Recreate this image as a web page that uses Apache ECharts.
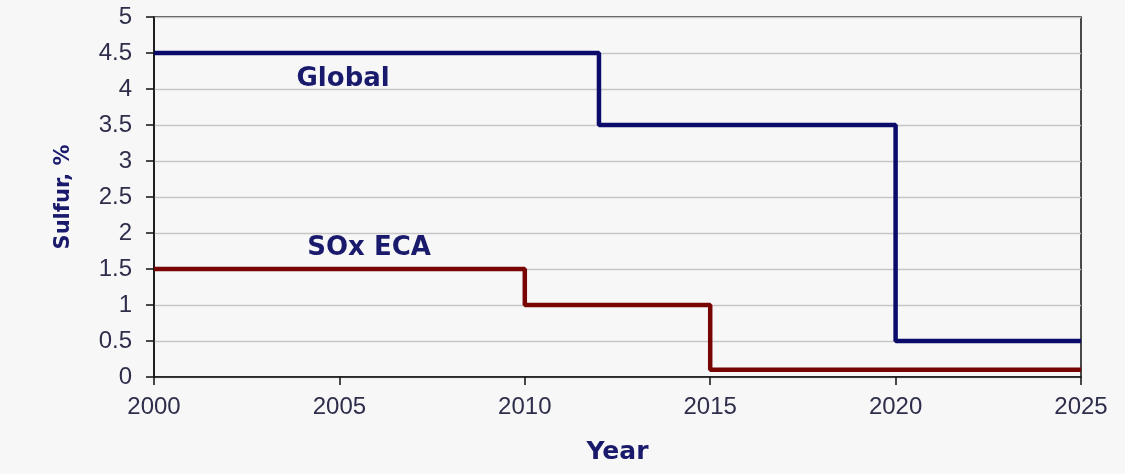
<!DOCTYPE html>
<html>
<head>
<meta charset="utf-8">
<script src="https://cdn.jsdelivr.net/npm/echarts@6/dist/echarts.min.js"></script>
<style>
  html, body { margin: 0; padding: 0; background: #f7f7f7; }
  #chart { width: 1125px; height: 474px; }
</style>
</head>
<body>
<div id="chart"></div>
<script>
// Sulfur limits (%) in marine fuel, by year the limit takes effect
const globalYears = [2000, 2012, 2020, 2025];
const globalLimits = [4.5, 3.5, 0.5, 0.5];
const ecaYears = [2000, 2010, 2015, 2025];
const ecaLimits = [1.5, 1.0, 0.1, 0.1];

const yTicks = [0, 0.5, 1, 1.5, 2, 2.5, 3, 3.5, 4, 4.5, 5];
const xTicks = [2000, 2005, 2010, 2015, 2020, 2025];

const seriesNames = ['Global', 'SOx ECA'];
const labelAnchors = [[2005.1, 4.14], [2005.8, 1.79]];

const tickFont = 'Liberation Sans, Arial, sans-serif';
const boldFont = 'DejaVu Sans, Verdana, sans-serif';
const navy = '#0b0b6c';
const red = '#780404';
const titleColor = '#1a1a6c';
const tickColor = '#2e2e4c';

function pairs(xs, ys) { return xs.map((x, i) => [x, ys[i]]); }

function annotation(idx) {
  return {
    symbol: 'circle', symbolSize: 0,
    label: {
      show: true, position: 'inside', formatter: seriesNames[idx],
      fontFamily: boldFont, fontWeight: 'bold', fontSize: 26, color: titleColor
    },
    data: [{ coord: labelAnchors[idx] }]
  };
}

const chart = echarts.init(document.getElementById('chart'));
chart.setOption({
  backgroundColor: '#f7f7f7',
  animation: false,
  grid: { left: 154, right: 44, top: 17, bottom: 97, show: true, borderColor: '#111', borderWidth: 1.5, backgroundColor: 'transparent' },
  xAxis: {
    type: 'value', min: 2000, max: 2025, interval: 5,
    name: 'Year', nameLocation: 'middle', nameGap: 63,
    nameTextStyle: { fontFamily: boldFont, fontWeight: 'bold', fontSize: 25, color: titleColor },
    axisLine: { lineStyle: { color: '#111', width: 1.5 } },
    axisTick: { show: true, length: 8, lineStyle: { color: '#111', width: 1.5 } },
    splitLine: { show: false },
    axisLabel: { fontFamily: tickFont, fontSize: 24, color: tickColor, margin: 18,
      formatter: v => xTicks.includes(v) ? String(v) : '' }
  },
  yAxis: {
    type: 'value', min: 0, max: 5, interval: 0.5,
    name: 'Sulfur, %', nameLocation: 'middle', nameGap: 80, nameRotate: 90,
    nameTextStyle: { fontFamily: boldFont, fontWeight: 'bold', fontSize: 21, color: titleColor },
    axisLine: { show: true, lineStyle: { color: '#111', width: 1.5 } },
    axisTick: { show: true, length: 8, lineStyle: { color: '#111', width: 1.5 } },
    splitLine: { show: true, lineStyle: { color: '#c6c6c6', width: 1.3 } },
    axisLabel: { fontFamily: tickFont, fontSize: 24, color: tickColor, margin: 22,
      formatter: v => yTicks.includes(v) ? String(v) : '' }
  },
  series: [
    {
      name: seriesNames[0], type: 'line', step: 'end', symbol: 'none',
      data: pairs(globalYears, globalLimits),
      lineStyle: { color: navy, width: 4.5 },
      markPoint: annotation(0)
    },
    {
      name: seriesNames[1], type: 'line', step: 'end', symbol: 'none',
      data: pairs(ecaYears, ecaLimits),
      lineStyle: { color: red, width: 4.5 },
      markPoint: annotation(1)
    }
  ]
});
</script>
</body>
</html>
